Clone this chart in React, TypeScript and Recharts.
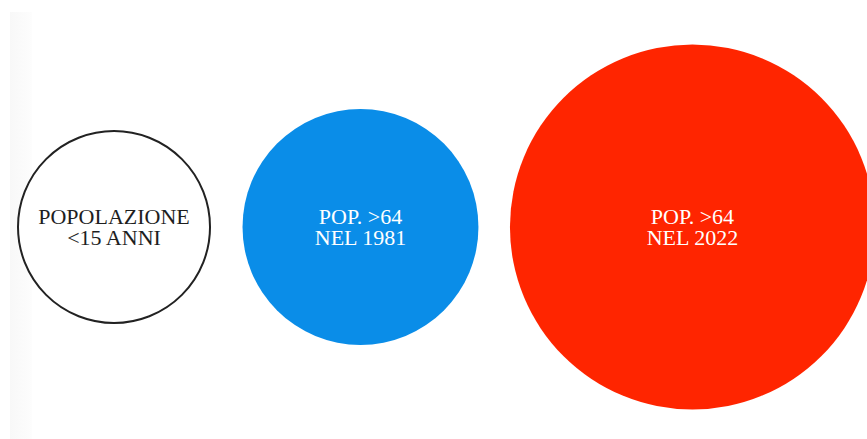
import { ScatterChart, Scatter, XAxis, YAxis, ZAxis, Cell } from "recharts"

const LABELS_TOP = ["POPOLAZIONE", "POP. >64", "POP. >64"]
const LABELS_BOTTOM = ["<15 ANNI", "NEL 1981", "NEL 2022"]
const VALUES = [3.97, 5.87, 14.05]
const FILLS = ["#ffffff", "#0a8de8", "#ff2500"]
const TEXT_COLORS = ["#1e1e1e", "#ffffff", "#ffffff"]

const WIDTH = 867
const HEIGHT = 439
const R_MAX = 182.5
const GAP = 31.5
const START = 17

const maxValue = Math.max(...VALUES)
const radiusOf = (v: number) => Math.sqrt(v / maxValue) * R_MAX

// circles laid out left to right, each separated by GAP
const data = (() => {
    let edge = START
    return VALUES.map((value, i) => {
        const r = radiusOf(value)
        const x = edge + r
        edge = x + r + GAP
        return { x, y: 0, value, top: LABELS_TOP[i], bottom: LABELS_BOTTOM[i], index: i }
    })
})()

function Bubble(props: any) {
    const { cx, cy, width, payload } = props
    const r = width / 2
    const i = payload.index
    const font = "'Liberation Serif', 'Times New Roman', serif"
    return (
        <g>
            <circle
                cx={cx}
                cy={cy}
                r={i === 0 ? r - 1 : r}
                fill={FILLS[i]}
                stroke={i === 0 ? "#222" : "none"}
                strokeWidth={2}
            />
            <text x={cx} y={cy - 3} textAnchor="middle" fill={TEXT_COLORS[i]} fontFamily={font} fontSize={22}>
                {payload.top}
            </text>
            <text x={cx} y={cy + 18} textAnchor="middle" fill={TEXT_COLORS[i]} fontFamily={font} fontSize={22}>
                {payload.bottom}
            </text>
        </g>
    )
}

export default function App() {
    return (
        <div style={{ position: "relative", width: WIDTH, height: HEIGHT, background: "#fff" }}>
            <style>{`body { margin: 0; }`}</style>
            <div
                style={{
                    position: "absolute",
                    left: 10,
                    top: 12,
                    width: 22,
                    bottom: 0,
                    background: "linear-gradient(to right, #f8f8f8, #fdfdfd)",
                }}
            />
            <div style={{ position: "absolute", left: 0, top: 0 }}>
                <ScatterChart width={WIDTH} height={HEIGHT} margin={{ top: 15, right: 0, bottom: 0, left: 0 }}>
                    <XAxis type="number" dataKey="x" domain={[0, WIDTH]} hide />
                    <YAxis type="number" dataKey="y" domain={[-1, 1]} hide />
                    <ZAxis type="number" dataKey="value" domain={[0, maxValue]} range={[0, Math.PI * R_MAX * R_MAX]} />
                    <Scatter data={data} shape={Bubble} isAnimationActive={false}>
                        {data.map((d, i) => (
                            <Cell key={`cell-${i}`} fill={FILLS[i]} />
                        ))}
                    </Scatter>
                </ScatterChart>
            </div>
        </div>
    )
}
